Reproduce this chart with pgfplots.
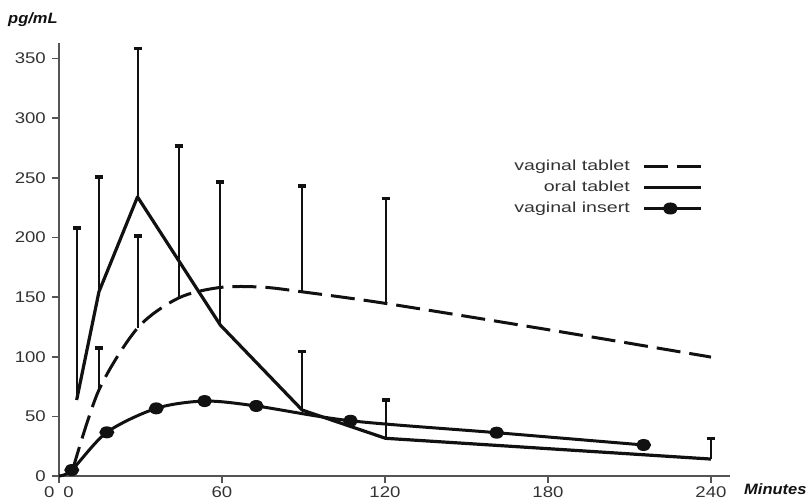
\documentclass[border=0pt]{standalone}
\usepackage{fontspec}
\setmainfont{Liberation Sans}
\newfontfamily\tickfont[FakeStretch=1.2]{Liberation Sans}
\newfontfamily\legfont[FakeStretch=1.35]{Liberation Sans}
\newfontfamily\labfont[FakeStretch=1.1]{Liberation Sans}
\usepackage{pgfplots}
\pgfplotsset{compat=1.18}
\definecolor{axisgray}{HTML}{555555}
\definecolor{textgray}{HTML}{333333}
\definecolor{ink}{HTML}{111111}

\pgfplotstableread{
x y
6.5 63.7
14.7 154.4
28.9 234
59.4 126.5
89.5 55.3
120.2 31.6
240 14.2
}\oral

\pgfplotstableread{
x y
5 5
14.7 72.1
28.9 124
44 149.2
59.4 158.1
75 158.3
89.5 154.4
120.2 144.7
181 122.3
240 99.7
}\vagtab

\pgfplotstableread{
x y
0 0
4.7 5.0
17.6 36.6
35.8 56.7
53.6 62.8
72.6 58.7
107.3 46.3
161.1 36.3
215.2 26.0
}\insert

\pgfplotstableread{
x y e
6.5 63.7 144.4
14.7 154.4 96.4
28.9 234 124.4
59.4 126.5 120.1
89.5 55.3 48.9
120.2 31.6 32.1
240 14.2 17.4
}\oralerr

\pgfplotstableread{
x y e
14.7 72.1 35.4
28.9 124 77.1
44 149.2 127.6
89.5 154.4 88.6
120.2 144.7 88
}\vagerr

\begin{document}
\begin{tikzpicture}
\useasboundingbox (-59pt,-27pt) rectangle (747pt,476pt);
\begin{axis}[
  at={(0pt,0pt)}, anchor=south west,
  scale only axis, width=671pt, height=433pt,
  xmin=0, xmax=247, ymin=0, ymax=363,
  clip=false,
  axis x line*=bottom, axis y line*=left,
  axis line style={-, draw=axisgray, line width=2pt},
  tick align=outside, major tick length=7pt,
  tick style={draw=axisgray, line width=1.6pt},
  ytick={0,50,...,350},
  xtick={0,60,120,180,240},
  xticklabels={0\hspace{9pt}0,60,120,180,240},
  /pgf/number format/assume math mode=true,
  ticklabel style={font=\tickfont\fontsize{15.5}{18}\selectfont, text=textgray},
  xticklabel style={inner sep=0pt, yshift=-3pt},
  yticklabel style={inner sep=0pt, xshift=-6pt},
  ylabel={pg/mL},
  ylabel style={rotate=-90, at={(rel axis cs:0,1)}, anchor=base west,
    xshift=-51pt, yshift=19pt, inner sep=0pt,
    font=\labfont\bfseries\itshape\fontsize{15}{18}\selectfont, text=ink},
  xlabel={Minutes},
  xlabel style={at={(rel axis cs:1,0)}, anchor=base west,
    xshift=14pt, yshift=-19pt, inner sep=0pt,
    font=\labfont\bfseries\itshape\fontsize{15}{18}\selectfont, text=ink},
  legend plot pos=right,
  legend cell align=right,
  legend style={draw=none, fill=none, at={(0.96,0.732)}, anchor=north east,
    inner sep=0pt, font=\legfont\fontsize{14.5}{17}\selectfont, text=textgray,
    row sep=6.5pt, column sep=13pt,
    nodes={inner sep=0pt, text height=11pt, text depth=3.5pt}},
]
% error bars
\addplot[forget plot, draw=none, mark=none,
  error bars/.cd, y dir=plus, y explicit, error mark=|,
  error bar style={solid, line width=2pt, draw=ink},
  error mark options={solid, line width=3.5pt, mark size=4pt, draw=ink}]
  table[x=x, y=y, y error=e] {\oralerr};
\addplot[forget plot, draw=none, mark=none,
  error bars/.cd, y dir=plus, y explicit, error mark=|,
  error bar style={solid, line width=2pt, draw=ink},
  error mark options={solid, line width=3.5pt, mark size=4pt, draw=ink}]
  table[x=x, y=y, y error=e] {\vagerr};
% curves
\addplot[ink, line width=3pt, smooth, dash pattern=on 24pt off 9pt,
  legend image code/.code={\draw[ink, line width=3pt, dash pattern=on 24pt off 9pt] (0pt,0pt) -- (57pt,0pt);}]
  table[x=x, y=y] {\vagtab};
\addlegendentry{vaginal tablet}
\addplot[ink, line width=3.2pt, line join=round,
  legend image code/.code={\draw[ink, line width=3.2pt] (0pt,0pt) -- (57pt,0pt);}]
  table[x=x, y=y] {\oral};
\addlegendentry{oral tablet}
\addplot[ink, line width=3pt, smooth, mark=*, mark indices={2,3,4,5,6,7,8,9},
  mark options={solid, fill=ink, draw=ink, xscale=1.3}, mark size=4.5pt,
  legend image code/.code={\draw[ink, line width=3pt] (0pt,0pt) -- (57pt,0pt); \fill[ink] (26pt,0pt) ellipse [x radius=6pt, y radius=4.5pt];}]
  table[x=x, y=y] {\insert};
\addlegendentry{vaginal insert}
\end{axis}
\end{tikzpicture}
\end{document}
